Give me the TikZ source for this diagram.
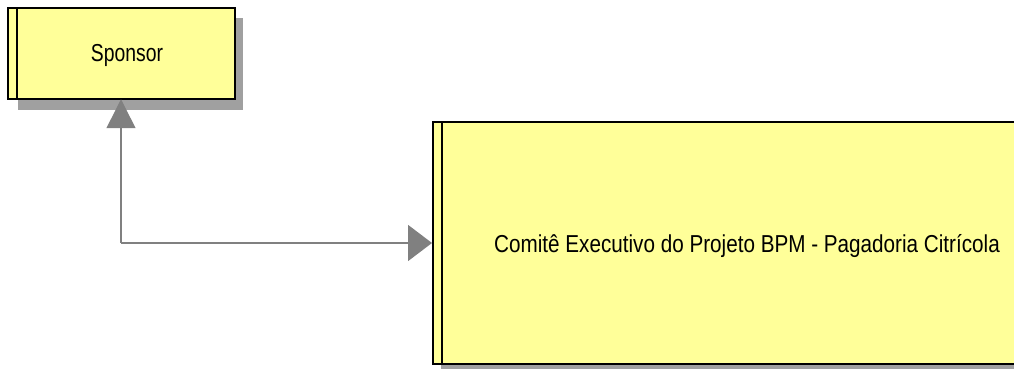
\documentclass[tikz,border=0pt]{standalone}
\usepackage{fontspec}
\setmainfont{Liberation Sans}
\usetikzlibrary{arrows.meta}
\definecolor{boxfill}{HTML}{FFFF99}
\definecolor{shadowgray}{HTML}{A0A0A0}
\definecolor{linkgray}{HTML}{808080}
\tikzset{
  shadowbox/.style={fill=shadowgray, draw=none},
  entitybox/.style={fill=boxfill, draw=black, line width=1.5pt},
  innerline/.style={draw=black, line width=1.2pt},
  lbl/.style={font=\fontsize{24.5}{28}\selectfont, inner sep=0pt, anchor=base},
  link/.style={draw=linkgray, line width=1.5pt},
  tipv/.style={-{Triangle[length=29pt,width=29pt]}},
  tiph/.style={-{Triangle[length=24pt,width=36pt]}}
}
\begin{document}
\begin{tikzpicture}[x=1pt,y=1pt]
\useasboundingbox (0,0) rectangle (1014,369);
\begin{scope}
\clip (0,0) rectangle (1014,369);
% Sponsor (image y 8..99 -> tikz y 361..270)
\fill[shadowbox] (18,259) rectangle (243,351);
\node[entitybox, minimum width=227pt, minimum height=91pt, inner sep=0pt] (sp) at (121.5,315.5) {};
\draw[innerline] (17,361) -- (17,270);
\node[lbl] (spt) at (127,307) {\scalebox{0.79}[1]{Sponsor}};
% Comite (image y 122..364 -> tikz y 247..5)
\fill[shadowbox] (441,-6) rectangle (1030,239);
\node[entitybox, minimum width=600pt, minimum height=242pt, inner sep=0pt, anchor=west] (ce) at (432,126) {};
\draw[innerline] (442,247) -- (442,5);
\node[lbl] (cet) at (747,116) {\scalebox{0.844}[1]{Comitê Executivo do Projeto BPM - Pagadoria Citrícola}};
% connector
\coordinate (bend) at (121,126);
\draw[link, tipv, shorten >=-0.5pt] (bend) -- (sp.south -| bend);
\draw[link, tiph] (bend) -- (ce.west |- bend);
\end{scope}
\end{tikzpicture}
\end{document}
